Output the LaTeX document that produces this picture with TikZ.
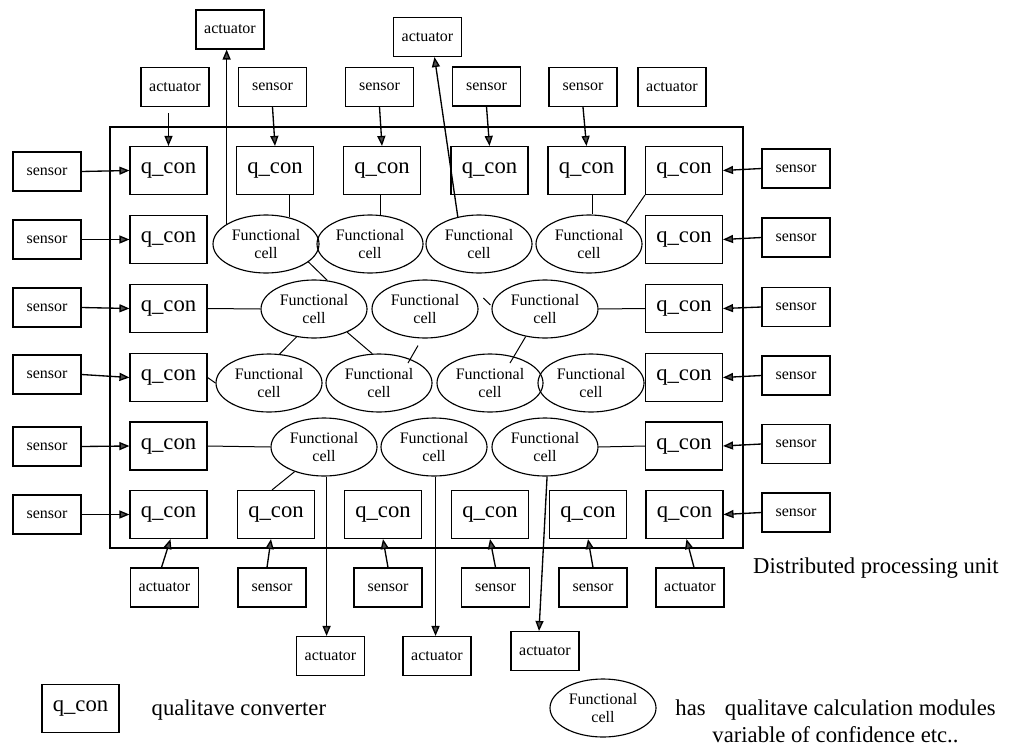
\documentclass[tikz,border=0pt]{standalone}
\usepackage{fontspec}
\setmainfont{Liberation Serif}
\usetikzlibrary{shapes.geometric,arrows.meta,calc}
\begin{document}
\begin{tikzpicture}[x=0.75pt,y=-0.75pt,
  qbox/.style={draw,line width=0.85pt,minimum width=57.75pt,minimum height=36pt,inner sep=0pt,font=\fontsize{17}{18}\selectfont},
  ebox/.style={draw,line width=0.85pt,minimum width=51pt,minimum height=29.25pt,inner sep=0pt,font=\fontsize{12}{13.5}\selectfont},
  fcell/.style={draw,ellipse,line width=0.85pt,minimum width=79.5pt,minimum height=43.5pt,inner sep=0pt,align=center,font=\fontsize{12}{13.5}\selectfont},
  arr/.style={line width=1pt,-{Triangle[length=7.5pt,width=6pt,fill=black!70]}},
  link/.style={line width=0.75pt},
  frame/.style={line width=2.2pt},
  big/.style={font=\fontsize{17}{20}\selectfont}
]
\useasboundingbox (0,0) rectangle (1013,746);

% frame
\draw[frame] (110,127) rectangle (743,548);

% q_con boxes
\node[qbox] (q11) at (168.5,170.5) {q\_con};
\node[qbox] (q12) at (275,170.5) {q\_con};
\node[qbox] (q13) at (382,170.5) {q\_con};
\node[qbox] (q14) at (489.5,170.5) {q\_con};
\node[qbox] (q15) at (586.5,170.5) {q\_con};
\node[qbox] (q16) at (684,170.5) {q\_con};
\node[qbox] (q21) at (168.5,239.5) {q\_con};
\node[qbox] (q26) at (684,239.5) {q\_con};
\node[qbox] (q31) at (168.5,308.5) {q\_con};
\node[qbox] (q36) at (684,308.5) {q\_con};
\node[qbox] (q41) at (168.5,377.5) {q\_con};
\node[qbox] (q46) at (684,377.5) {q\_con};
\node[qbox] (q51) at (168.5,446) {q\_con};
\node[qbox] (q56) at (684,446) {q\_con};
\node[qbox] (q61) at (168.5,514.5) {q\_con};
\node[qbox] (q62) at (276,514.5) {q\_con};
\node[qbox] (q63) at (383,514.5) {q\_con};
\node[qbox] (q64) at (490,514.5) {q\_con};
\node[qbox] (q65) at (588,514.5) {q\_con};
\node[qbox] (q66) at (684.5,514.5) {q\_con};

% top external
\node[ebox] (at1) at (175,87) {actuator};
\node[ebox] (st2) at (272.5,87) {sensor};
\node[ebox] (st3) at (379.5,87) {sensor};
\node[ebox] (st4) at (486.5,86.5) {sensor};
\node[ebox] (st5) at (583,87) {sensor};
\node[ebox] (at6) at (672,87) {actuator};
\node[ebox] (aU1) at (230,29.5) {actuator};
\node[ebox] (aU2) at (427.5,37) {actuator};

% left sensors
\node[ebox] (sL1) at (47,171.5) {sensor};
\node[ebox] (sL2) at (47,239.5) {sensor};
\node[ebox] (sL3) at (47,307.5) {sensor};
\node[ebox] (sL4) at (47,374.5) {sensor};
\node[ebox] (sL5) at (47,446.5) {sensor};
\node[ebox] (sL6) at (47,514.5) {sensor};

% right sensors
\node[ebox] (sR1) at (796,168.5) {sensor};
\node[ebox] (sR2) at (796,237.5) {sensor};
\node[ebox] (sR3) at (796,307) {sensor};
\node[ebox] (sR4) at (796,375.5) {sensor};
\node[ebox] (sR5) at (796,444) {sensor};
\node[ebox] (sR6) at (796,512.5) {sensor};

% bottom external
\node[ebox] (ab1) at (164.5,587.5) {actuator};
\node[ebox] (sb2) at (272,587.5) {sensor};
\node[ebox] (sb3) at (388,587.5) {sensor};
\node[ebox] (sb4) at (495.5,587.5) {sensor};
\node[ebox] (sb5) at (593,587.5) {sensor};
\node[ebox] (ab6) at (690,587.5) {actuator};
\node[ebox] (aB1) at (330.5,656) {actuator};
\node[ebox] (aB2) at (437,656) {actuator};
\node[ebox] (aB3) at (545,651) {actuator};

% functional cells
\node[fcell] (f1) at (266,244) {Functional\\cell};
\node[fcell] (f2) at (370,244) {Functional\\cell};
\node[fcell] (f3) at (479,244) {Functional\\cell};
\node[fcell] (f4) at (589,244) {Functional\\cell};
\node[fcell] (f5) at (314,309) {Functional\\cell};
\node[fcell] (f6) at (425,309) {Functional\\cell};
\node[fcell] (f7) at (545,309) {Functional\\cell};
\node[fcell] (f8) at (269,383) {Functional\\cell};
\node[fcell] (f9) at (379,383) {Functional\\cell};
\node[fcell] (f10) at (490,383) {Functional\\cell};
\node[fcell] (f11) at (591,383) {Functional\\cell};
\node[fcell] (f12) at (324,447) {Functional\\cell};
\node[fcell] (f13) at (434,447) {Functional\\cell};
\node[fcell] (f14) at (545,447) {Functional\\cell};

% arrows: top
\draw[arr] ($(q11.north |- at1.south)+(0,6)$) -- (q11.north);
\draw[arr] (st2.south) -- (q12.north);
\draw[arr] (st3.south) -- (q13.north);
\draw[arr] (st4.south) -- (q14.north);
\draw[arr] (st5.south) -- (q15.north);
\draw[arr] (f1.153) -- (f1.153 |- aU1.south);
\draw[arr] (f3.128) -- ($(aU2.south)+(7,0)$);

% arrows: left / right
\draw[arr] (sL1.east) -- (q11.west);
\draw[arr] (sL2.east) -- (q21.west);
\draw[arr] (sL3.east) -- (q31.west);
\draw[arr] (sL4.east) -- (q41.west);
\draw[arr] (sL5.east) -- (q51.west);
\draw[arr] (sL6.east) -- (q61.west);
\draw[arr] (sR1.west) -- (q16.east);
\draw[arr] (sR2.west) -- (q26.east);
\draw[arr] (sR3.west) -- (q36.east);
\draw[arr] (sR4.west) -- (q46.east);
\draw[arr] (sR5.west) -- (q56.east);
\draw[arr] (sR6.west) -- (q66.east);

% arrows: bottom
\draw[arr] ($(ab1.north)+(-3,0)$) -- ($(q61.south)+(2,0)$);
\draw[arr] ($(sb2.north)+(-5,0)$) -- ($(q62.south)+(-5,0)$);
\draw[arr] (sb3.north) -- (q63.south);
\draw[arr] (sb4.north) -- (q64.south);
\draw[arr] (sb5.north) -- (q65.south);
\draw[arr] ($(ab6.north)+(4,0)$) -- ($(q66.south)+(2,0)$);
\draw[arr] (f12.-85) -- (f12.-85 |- aB1.north);
\draw[arr] (f13.-87) -- (f13.-87 |- aB2.north);
\draw[arr] (f14.-86) -- ($(aB3.north)+(-6,0)$);

% links
\draw[link] (f1.49) -- (f1.49 |- q12.south);
\draw[link] (f2.71) -- (f2.71 |- q13.south);
\draw[link] (f4.84) -- (f4.84 |- q15.south);
\draw[link] (f4.30) -- (q16.south west);
\draw[link] (f1.-23) -- (f5.65);
\draw[link] (q31.east) -- (f5.west);
\draw[link] (f7.east) -- (q36.west);
\draw[link] ($(f7.west)+(-8,-11)$) -- ($(f7.west)+(-1,-4)$);
\draw[link] (f5.-122) -- (f8.70);
\draw[link] (f5.-35) -- (f9.103);
\draw[link] ($(f6.south)+(-7,7)$) -- ($(f9.center)+(29,-20)$);
\draw[link] (f7.-125) -- ($(f10.center)+(20,-20)$);
\draw[link] (q41.east) -- (f8.west);
\draw[link] (q51.east) -- (f12.west);
\draw[link] (f14.east) -- (q56.west);
\draw[link] (f12.-140) -- ($(q62.north)+(-4,0)$);

% labels and legend
\node[big] (dpu) at (876,568) {Distributed processing unit};
\node[qbox] (qL) at (80.5,708.5) {q\_con};
\node[big,anchor=west] (qLt) at (147,710) {qualitave converter};
\node[fcell] (fL) at (603,708) {Functional\\cell};
\node[big,align=center] (fLt) at (835.5,721.5) {has\hspace{0.6em} qualitave calculation modules\\variable of confidence etc..};
\end{tikzpicture}
\end{document}
